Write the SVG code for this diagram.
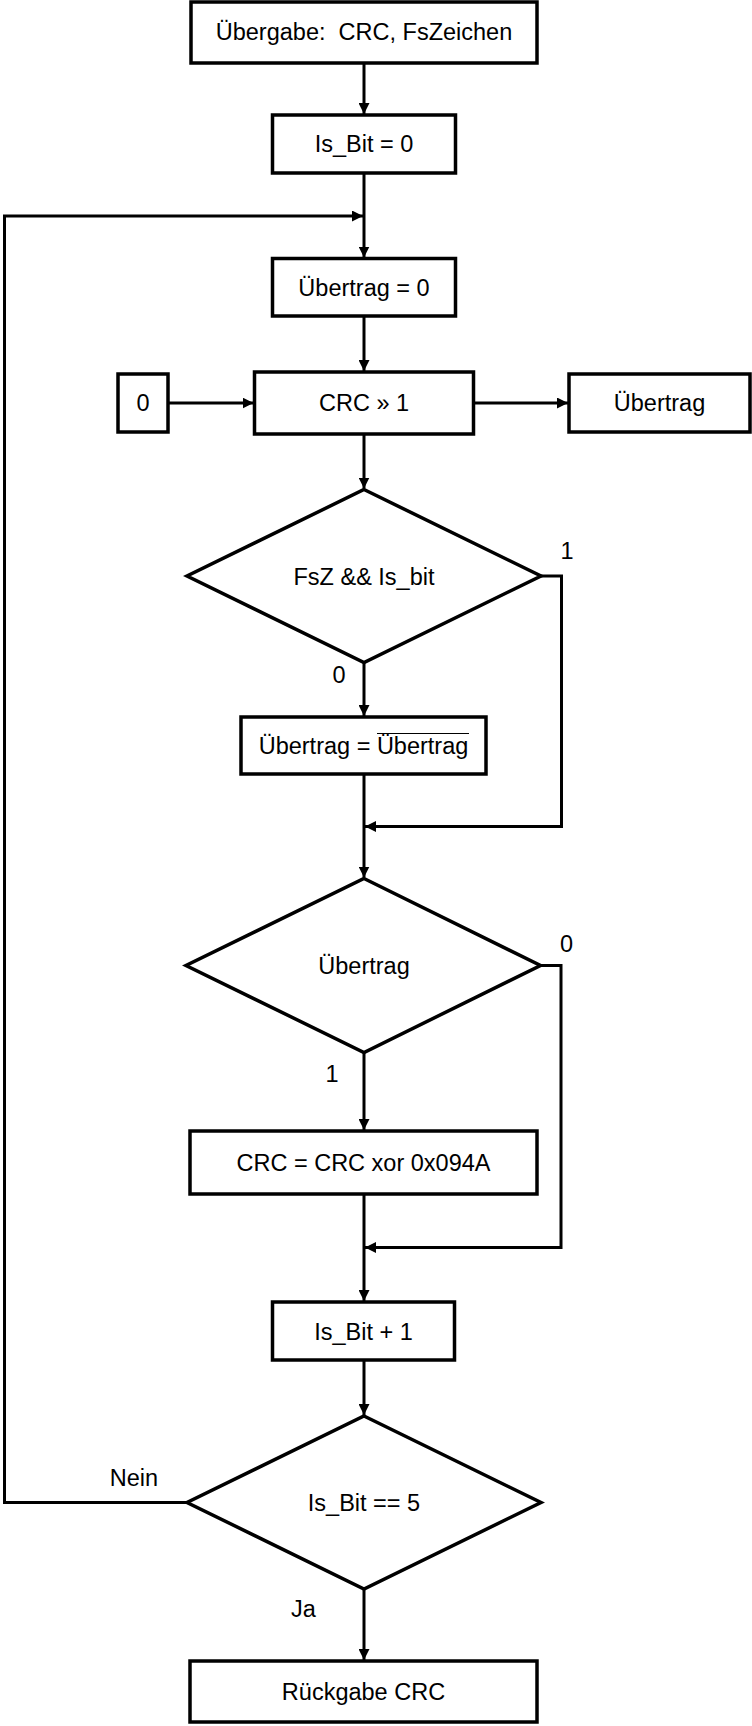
<svg xmlns="http://www.w3.org/2000/svg" width="752" height="1726" viewBox="0 0 752 1726">
<style>
.shape{fill:#fff;stroke:#000;stroke-width:3.5}
.conn{fill:none;stroke:#000;stroke-width:3}
text{font-family:"Liberation Sans",Arial,sans-serif;font-size:23.5px;fill:#000}
.c{text-anchor:middle}
</style>
<defs>
<marker id="arr" markerUnits="userSpaceOnUse" markerWidth="11" markerHeight="11" refX="11" refY="5.5" orient="auto">
<path d="M0,0 L11,5.5 L0,11 z" fill="#000"/>
</marker>
</defs>
<rect width="752" height="1726" fill="#fff"/>
<g id="connectors">
<path class="conn" d="M364,63 V114" marker-end="url(#arr)"/>
<path class="conn" d="M364,173 V257.5" marker-end="url(#arr)"/>
<path class="conn" d="M187,1502.5 H4.5 V216 H363" marker-end="url(#arr)"/>
<path class="conn" d="M364,316 V371" marker-end="url(#arr)"/>
<path class="conn" d="M168,403 H253.5" marker-end="url(#arr)"/>
<path class="conn" d="M473.5,403 H568" marker-end="url(#arr)"/>
<path class="conn" d="M364,434 V488.5" marker-end="url(#arr)"/>
<path class="conn" d="M364,662.5 V716" marker-end="url(#arr)"/>
<path class="conn" d="M541,576 H561.5 V826.5 H365" marker-end="url(#arr)"/>
<path class="conn" d="M364,774 V877.5" marker-end="url(#arr)"/>
<path class="conn" d="M364,1052.5 V1130" marker-end="url(#arr)"/>
<path class="conn" d="M540.5,965.5 H561 V1247.5 H365" marker-end="url(#arr)"/>
<path class="conn" d="M364,1194 V1301" marker-end="url(#arr)"/>
<path class="conn" d="M364,1360 V1415" marker-end="url(#arr)"/>
<path class="conn" d="M364,1589 V1660" marker-end="url(#arr)"/>
</g>
<g id="n_uebergabe">
<rect class="shape" x="191" y="2" width="346" height="61"/>
<text class="c" x="364" y="40" xml:space="preserve">Übergabe:  CRC, FsZeichen</text>
</g>
<g id="n_isbit0">
<rect class="shape" x="272.5" y="115" width="183" height="58"/>
<text class="c" x="364" y="152">Is_Bit = 0</text>
</g>
<g id="n_uebertrag0">
<rect class="shape" x="272.5" y="258.5" width="183" height="57.5"/>
<text class="c" x="364" y="295.5">Übertrag = 0</text>
</g>
<g id="n_zero">
<rect class="shape" x="118" y="374" width="50" height="58"/>
<text class="c" x="143" y="411">0</text>
</g>
<g id="n_crcshift">
<rect class="shape" x="254.5" y="372" width="219" height="62"/>
<text class="c" x="364" y="411">CRC » 1</text>
</g>
<g id="n_uebertragout">
<rect class="shape" x="569" y="374" width="181" height="58"/>
<text class="c" x="659.5" y="411">Übertrag</text>
</g>
<g id="n_dec1">
<polygon class="shape" points="364,489.5 541,576 364,662.5 187,576"/>
<text class="c" x="364" y="584.5">FsZ &amp;&amp; Is_bit</text>
<text class="c" x="567" y="559">1</text>
<text class="c" x="339" y="683">0</text>
</g>
<g id="n_invert">
<rect class="shape" x="241" y="717" width="245" height="57"/>
<text class="c" x="363.5" y="753.5">Übertrag = Übertrag</text>
<line x1="377" y1="733.5" x2="469" y2="733.5" stroke="#000" stroke-width="1.2"/>
</g>
<g id="n_dec2">
<polygon class="shape" points="364,878.5 540.5,965.5 364,1052.5 186,965.5"/>
<text class="c" x="364" y="973.5">Übertrag</text>
<text class="c" x="566.5" y="951.5">0</text>
<text class="c" x="332" y="1081.5">1</text>
</g>
<g id="n_xor">
<rect class="shape" x="190" y="1131" width="347" height="63"/>
<text class="c" x="363.5" y="1170.5">CRC = CRC xor 0x094A</text>
</g>
<g id="n_isbitinc">
<rect class="shape" x="272.5" y="1302" width="182" height="58"/>
<text class="c" x="363.5" y="1339.5">Is_Bit + 1</text>
</g>
<g id="n_dec3">
<polygon class="shape" points="364,1416 541,1502.5 364,1589 187,1502.5"/>
<text class="c" x="364" y="1511">Is_Bit == 5</text>
<text class="c" x="134" y="1486">Nein</text>
<text class="c" x="303.5" y="1617">Ja</text>
</g>
<g id="n_rueckgabe">
<rect class="shape" x="190" y="1661" width="347" height="61"/>
<text class="c" x="363.5" y="1699.5">Rückgabe CRC</text>
</g>
</svg>
